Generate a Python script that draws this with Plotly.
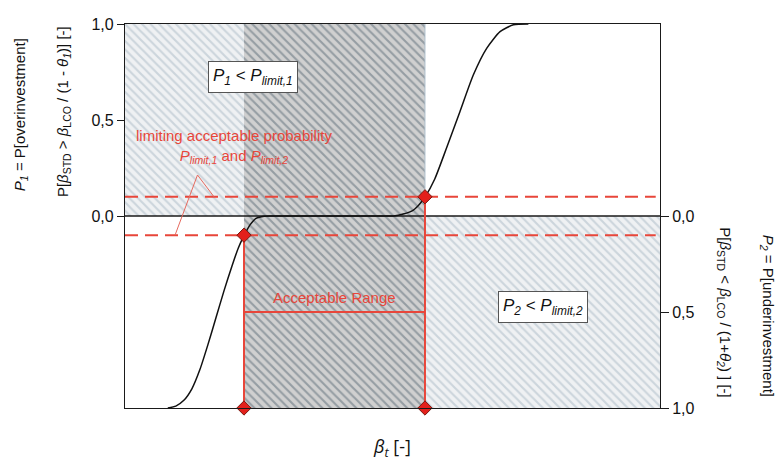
import plotly.graph_objects as go

# ---- data ----
beta_curve = [0.80, 0.95, 1.10, 1.25, 1.40, 1.55, 1.70, 1.85, 2.00, 2.12, 2.23, 2.34, 2.45, 2.60, 2.75,
              3.4, 4.1, 4.7, 5.02, 5.20, 5.39, 5.50, 5.61, 5.79, 6.01, 6.26, 6.51, 6.76, 7.01, 7.26, 7.54]
p_curve = [-1.0, -0.99, -0.96, -0.90, -0.80, -0.67, -0.53, -0.39, -0.26, -0.165, -0.10, -0.045, -0.012, -0.001, 0.0,
           0.0, 0.0, 0.0, 0.0, 0.01, 0.031, 0.06, 0.10, 0.193, 0.354, 0.543, 0.734, 0.873, 0.96, 0.996, 1.0]

beta_range = [0.0, 10.0]
beta_low = 2.224
beta_high = 5.607
p_limit = 0.1
acceptable_level = -0.5

left_tickvals = [0.0, 0.5, 1.0]
left_ticktext = ["0,0", "0,5", "1,0"]
right_tickvals = [0.0, -0.5, -1.0]
right_ticktext = ["0,0", "0,5", "1,0"]

leader_x = [0.935, 1.355, 1.664]
leader_y = [-0.1, 0.2135, 0.1]

RED = "#e8463a"
FONT = "Liberation Sans"


def rect(x0, x1, y0, y1):
    return [x0, x1, x1, x0, x0], [y0, y0, y1, y1, y0]


fig = go.Figure()

light_pattern = dict(shape="\\", bgcolor="#eff1f3", fgcolor="#ccd5dc", size=6, solidity=0.35,
                     fillmode="replace")
dark_pattern = dict(shape="\\", bgcolor="#d0d0d0", fgcolor="#959da3", size=6, solidity=0.35,
                    fillmode="replace")

# light hatched upper region
xs, ys = rect(beta_range[0], beta_high, 0, 1)
fig.add_trace(go.Scatter(x=xs, y=ys, mode="lines", fill="toself", line=dict(width=0),
                         fillpattern=light_pattern, hoverinfo="skip", showlegend=False))
# light hatched lower region
xs, ys = rect(beta_low, beta_range[1], -1, 0)
fig.add_trace(go.Scatter(x=xs, y=ys, mode="lines", fill="toself", line=dict(width=0),
                         fillpattern=light_pattern, hoverinfo="skip", showlegend=False))
# dark hatched acceptable region
xs, ys = rect(beta_low, beta_high, -1, 1)
fig.add_trace(go.Scatter(x=xs, y=ys, mode="lines", fill="toself", line=dict(width=0),
                         fillpattern=dark_pattern, hoverinfo="skip", showlegend=False))
# thin edge of dark region in the upper half
fig.add_trace(go.Scatter(x=[beta_high, beta_high], y=[p_limit, 1], mode="lines",
                         line=dict(color="#aebfcc", width=1), hoverinfo="skip", showlegend=False))

# zero line
fig.add_trace(go.Scatter(x=beta_range, y=[0, 0], mode="lines",
                         line=dict(color="#1a1a1a", width=1.3), hoverinfo="skip", showlegend=False))

# curve
fig.add_trace(go.Scatter(x=beta_curve, y=p_curve, mode="lines", line_shape="spline",
                         line=dict(color="#111111", width=1.5, smoothing=0.6),
                         hoverinfo="skip", showlegend=False))

# dashed limit lines
for lvl in (p_limit, -p_limit):
    fig.add_trace(go.Scatter(x=[beta_range[0], beta_range[1] - 0.08], y=[lvl, lvl], mode="lines",
                             line=dict(color=RED, width=2, dash="13px,7px"),
                             hoverinfo="skip", showlegend=False))

# red verticals
fig.add_trace(go.Scatter(x=[beta_low, beta_low], y=[-p_limit, -1], mode="lines",
                         line=dict(color=RED, width=2), hoverinfo="skip", showlegend=False))
fig.add_trace(go.Scatter(x=[beta_high, beta_high], y=[p_limit, -1], mode="lines",
                         line=dict(color=RED, width=2), hoverinfo="skip", showlegend=False))
# acceptable range line
fig.add_trace(go.Scatter(x=[beta_low, beta_high], y=[acceptable_level, acceptable_level], mode="lines",
                         line=dict(color=RED, width=2), hoverinfo="skip", showlegend=False))
# leader lines
fig.add_trace(go.Scatter(x=leader_x, y=leader_y, mode="lines",
                         line=dict(color="#e66a5f", width=1), hoverinfo="skip", showlegend=False))

# diamonds
fig.add_trace(go.Scatter(x=[beta_low, beta_high, beta_low, beta_high],
                         y=[-p_limit, p_limit, -1, -1], mode="markers",
                         marker=dict(symbol="diamond", size=11, color="#e3201b",
                                     line=dict(color="#7a1a12", width=1)),
                         hoverinfo="skip", showlegend=False, cliponaxis=False))

# right axis dummy trace
fig.add_trace(go.Scatter(x=[None], y=[None], yaxis="y2", showlegend=False, hoverinfo="skip"))

annotations = [
    dict(x=2.393, y=0.7255, xref="x", yref="y",
         text="<i>P</i><sub><i>1</i></sub> &lt; <i>P</i><sub><i>limit,1</i></sub>",
         showarrow=False, bgcolor="white", bordercolor="#555555", borderwidth=1, borderpad=4,
         font=dict(size=17, color="#111111")),
    dict(x=7.822, y=-0.474, xref="x", yref="y",
         text="<i>P</i><sub><i>2</i></sub> &lt; <i>P</i><sub><i>limit,2</i></sub>",
         showarrow=False, bgcolor="white", bordercolor="#555555", borderwidth=1, borderpad=4,
         font=dict(size=17, color="#111111")),
    dict(x=2.028, y=0.362, xref="x", yref="y",
         text="limiting acceptable probability<br>"
              "<i>P</i><sub><i>limit,1</i></sub> and <i>P</i><sub><i>limit,2</i></sub>",
         showarrow=False, align="center", font=dict(size=15, color=RED)),
    dict(x=3.925, y=-0.427, xref="x", yref="y", text="Acceptable Range",
         showarrow=False, font=dict(size=15, color=RED)),
    # axis titles
    dict(x=-0.196, y=0.763, xref="paper", yref="paper", textangle=-90,
         xanchor="center", yanchor="middle",
         text="<i>P</i><sub><i>1</i></sub> = P[overinvestment]", showarrow=False,
         font=dict(size=15, color="#111111")),
    dict(x=-0.116, y=0.773, xref="paper", yref="paper", textangle=-90,
         xanchor="center", yanchor="middle",
         text="P[<i>β</i><sub>STD</sub> &gt; <i>β</i><sub>LCO</sub> / (1 - <i>θ</i><sub><i>1</i></sub>)] [-]",
         showarrow=False, font=dict(size=15, color="#111111")),
    dict(x=1.121, y=0.25, xref="paper", yref="paper", textangle=90,
         xanchor="center", yanchor="middle",
         text="P[<i>β</i><sub>STD</sub> &lt; <i>β</i><sub>LCO</sub> / (1+<i>θ</i><sub><i>2</i></sub>) ] [-]",
         showarrow=False, font=dict(size=15, color="#111111")),
    dict(x=1.200, y=0.24, xref="paper", yref="paper", textangle=90,
         xanchor="center", yanchor="middle",
         text="<i>P</i><sub><i>2</i></sub> = P[underinvestment]", showarrow=False,
         font=dict(size=15, color="#111111")),
    dict(x=0.499, y=-0.104, xref="paper", yref="paper", xanchor="center", yanchor="middle",
         text="<i>β</i><sub><i>t</i></sub> [-]", showarrow=False,
         font=dict(size=18, color="#111111", family="Open Sans")),
]

fig.update_layout(
    width=779, height=462,
    margin=dict(l=125, r=119, t=24, b=54),
    paper_bgcolor="white", plot_bgcolor="white",
    font=dict(family=FONT, size=15, color="#111111"),
    showlegend=False,
    annotations=annotations,
    xaxis=dict(range=beta_range, showgrid=False, zeroline=False, showticklabels=False,
               ticks="", showline=True, linecolor="#1a1a1a", linewidth=1.3, mirror=True),
    yaxis=dict(range=[-1, 1], showgrid=False, zeroline=False, tickvals=left_tickvals,
               ticktext=left_ticktext, ticks="outside", ticklen=7, tickcolor="#1a1a1a",
               showline=True, linecolor="#1a1a1a", linewidth=1.3, mirror=True,
               tickfont=dict(size=16)),
    yaxis2=dict(range=[-1, 1], overlaying="y", side="right", showgrid=False, zeroline=False,
                tickvals=right_tickvals, ticktext=right_ticktext, ticks="outside", ticklen=8,
                tickcolor="#1a1a1a", showline=False, tickfont=dict(size=16)),
)

fig.write_html("out.html")
